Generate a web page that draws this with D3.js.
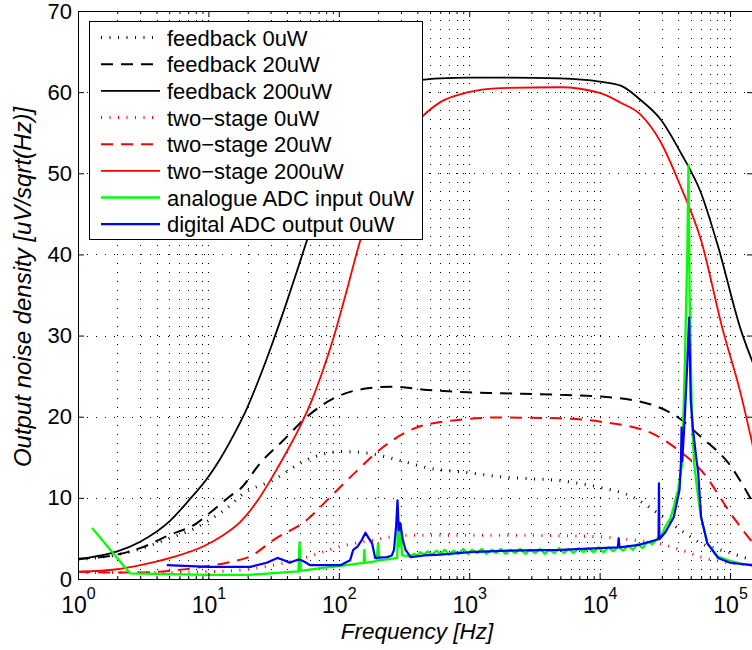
<!DOCTYPE html>
<html>
<head>
<meta charset="utf-8">
<script src="https://cdn.jsdelivr.net/npm/d3@7"></script>
<style>
  body { margin: 0; background: #fff; }
  svg text { font-family: "Liberation Sans", Arial, sans-serif; fill: #000; }
</style>
</head>
<body>
<div id="chart"></div>
<script>
// feedback amplifier, 0 / 20 / 200 uW
const fbFreq0 = [1, 2, 3, 5, 8, 10, 15.5, 17.5, 31.5, 57, 103, 166, 280, 480, 980, 1740, 5700, 10000, 18000, 28000, 42000, 60000, 97000, 150000];
const fbVal0 = [2.4, 3.0, 3.7, 5.0, 6.3, 7.2, 9.4, 10.2, 12.2, 14.7, 15.7, 15.5, 14.7, 13.7, 13.1, 12.6, 12.0, 11.3, 10.1, 8.1, 6.0, 4.4, 3.3, 2.3];
const fbFreq20 = [1, 2, 3, 5, 8, 10, 15.5, 17.5, 25, 37.6, 57, 98, 166, 250, 480, 980, 1740, 5000, 10000, 24800, 40000, 60000, 97000, 150000];
const fbVal20 = [2.5, 3.0, 3.8, 5.4, 6.8, 8.0, 10.5, 11.1, 14.3, 17.1, 20.0, 22.5, 23.5, 23.7, 23.3, 23.0, 22.9, 22.7, 22.5, 21.5, 19.9, 17.5, 14.3, 9.4];
const fbFreq200 = [1, 1.5, 2, 3, 5.1, 7, 10, 12.3, 15.2, 19.2, 24.1, 31.5, 39.6, 49, 60.5, 74.8, 99.3, 136.6, 208.7, 300, 423, 600, 1000, 2000, 5000, 10000, 14500, 20700, 29500, 42000, 59800, 80900, 121000, 150000];
const fbVal200 = [2.4, 2.9, 3.4, 4.6, 7.2, 9.6, 12.6, 14.8, 17.4, 20.6, 24.4, 29.4, 34.0, 38.5, 43.0, 47.3, 52.5, 57.0, 60.2, 61.1, 61.5, 61.7, 61.8, 61.8, 61.7, 61.3, 60.8, 59.0, 56.6, 52.5, 47.6, 41.0, 30.7, 26.6];

// two-stage amplifier, 0 / 20 / 200 uW
const tsFreq0 = [1, 2, 5, 10, 17.5, 31.5, 57, 103, 185, 335, 600, 2000, 10000, 18000, 28000, 42000, 60000, 97000, 150000];
const tsVal0 = [0.8, 0.8, 0.8, 0.9, 1.1, 1.7, 2.7, 4.0, 4.8, 5.4, 5.4, 5.4, 5.2, 4.8, 4.4, 3.6, 2.7, 2.0, 1.7];
const tsFreq20 = [1, 2, 3, 5, 9, 14.7, 21, 31.5, 57, 86, 139, 220, 400, 820, 1650, 5000, 10000, 24800, 40000, 60000, 106000, 150000];
const tsVal20 = [0.9, 0.8, 0.8, 1.0, 1.5, 2.1, 2.8, 4.8, 7.3, 10.1, 13.4, 16.3, 18.7, 19.6, 19.9, 19.8, 19.4, 18.0, 15.9, 13.4, 7.6, 4.4];
const tsFreq200 = [1, 2, 3, 5.1, 9.1, 12.7, 17.5, 23.7, 31.5, 40.2, 50.5, 62.7, 75.1, 91, 112.6, 141.8, 181.9, 250.5, 356, 439, 605, 990, 1740, 5000, 10000, 14500, 20700, 29500, 42000, 59800, 88000, 120000, 150000];
const tsVal200 = [0.9, 1.2, 1.7, 2.6, 4.0, 5.3, 7.0, 9.6, 12.8, 15.8, 18.8, 22.2, 25.6, 29.7, 35.0, 41.0, 46.5, 51.5, 55.2, 57.0, 58.8, 60.0, 60.5, 60.6, 59.9, 58.7, 57.2, 53.8, 48.3, 41.8, 30.7, 23.0, 16.3];

// measured spectra, 0 uW
const adcInFreq = [1.28, 2.5, 5, 10, 20, 30, 45, 49, 50, 51, 70, 100, 140, 155, 157, 159, 195, 200, 205, 260, 280, 285, 290, 295, 300, 305, 350,
  380, 400, 420, 450, 480, 520, 560, 600, 650, 700, 760, 820, 900, 980, 1050, 1150, 1250, 1350, 1500, 1600, 1750, 1900, 2050, 2250, 2450,
  2700, 2900, 3200, 3500, 3800, 4100, 4500, 4900, 5300, 5800, 6300, 6900, 7500, 8200, 9000, 9800, 10700, 11700, 12700, 13900, 15100,
  16500, 18000, 19600, 21400, 23300, 25400, 27700, 30000, 32000, 35000, 37000, 40000, 43000, 45000, 47000, 48000, 49000, 51000, 53000,
  57000, 60000, 67000, 80000, 97000, 120000, 150000];
const adcInVal = [6.3, 0.7, 0.6, 0.5, 0.5, 0.7, 0.9, 0.9, 4.5, 1.0, 1.3, 1.6, 1.9, 2.0, 3.6, 2.0, 2.2, 4.4, 2.3, 2.5, 2.6, 7.3, 4.0, 5.2, 6.5, 2.9, 2.8,
  3.1, 2.9, 3.3, 3.0, 3.4, 3.0, 3.5, 3.1, 3.6, 3.0, 3.5, 3.1, 3.7, 3.1, 3.6, 3.2, 3.7, 3.1, 3.6, 3.2, 3.7, 3.1, 3.6, 3.2, 3.7,
  3.1, 3.6, 3.2, 3.7, 3.1, 3.6, 3.2, 3.8, 3.2, 3.7, 3.2, 3.8, 3.3, 3.8, 3.3, 3.9, 3.3, 3.9, 3.4, 4.0, 3.5,
  4.1, 3.6, 4.3, 3.8, 4.6, 4.3, 5.0, 5.5, 6.5, 7.5, 8.9, 11.0, 14.3, 26.6, 40.0, 51.0, 35.0, 20.0, 14.3,
  10.0, 7.6, 4.4, 2.8, 2.3, 1.9, 1.7];
const adcOutFreq = [4.8, 10, 21, 28, 33.8, 38, 42, 47, 50, 55, 60, 80, 103, 122, 129, 139, 150, 160, 170, 180, 190, 235, 255, 265, 275, 282,
  288, 295, 310, 325, 355, 450, 600, 1000, 2000, 5000, 10000, 13800, 14000, 14200, 20000, 27000, 28300, 28500, 28700, 32000, 37000,
  41000, 42000, 42500, 43000, 45000, 47000, 48500, 50000, 52000, 55000, 57000, 60000, 67000, 81000, 100000, 150000];
const adcOutVal = [1.7, 1.5, 1.5, 2.0, 2.6, 2.3, 2.0, 2.3, 2.4, 2.1, 1.7, 1.7, 1.7, 2.3, 3.6, 4.0, 4.8, 5.7, 5.0, 4.4, 2.6, 2.7, 2.9, 3.6, 6.5, 9.7,
  6.0, 6.9, 4.8, 3.6, 2.7, 2.9, 3.0, 3.3, 3.5, 3.6, 3.8, 3.9, 5.0, 3.9, 4.2, 4.8, 4.9, 11.8, 4.9, 5.8, 7.6,
  11.0, 14.3, 18.7, 14.5, 20.0, 26.6, 32.2, 22.0, 18.4, 15.0, 13.1, 7.6, 4.4, 2.6, 2.0, 1.7];

const seriesNames = ["feedback 0uW", "feedback 20uW", "feedback 200uW", "two\u2212stage 0uW", "two\u2212stage 20uW",
  "two\u2212stage 200uW", "analogue ADC input 0uW", "digital ADC output 0uW"];
const xTickExponents = ["0", "1", "2", "3", "4", "5"];
const yTickLabels = ["0", "10", "20", "30", "40", "50", "60", "70"];

const width = 752, height = 650;
const plot = { left: 78, right: 753, top: 11, bottom: 579 };

const svg = d3.select("#chart").append("svg")
    .attr("width", width)
    .attr("height", height);

const xScale = d3.scaleLog().domain([1, 1.5e5]).range([plot.left, plot.right]);
const yScale = d3.scaleLinear().domain([0, 70]).range([plot.bottom, plot.top]);

const majorX = xTickExponents.map(e => Math.pow(10, +e));
const allX = xScale.ticks();
const minorX = allX.filter(t => !majorX.includes(t));
const yTicks = yTickLabels.map(Number);

// dotted grid
const grid = svg.append("g").attr("stroke", "#000").attr("stroke-width", 1).attr("stroke-dasharray", "1,8");
grid.selectAll("line.v").data(allX.filter(t => t > 1)).enter().append("line")
    .attr("x1", d => Math.round(xScale(d)) + 0.5).attr("x2", d => Math.round(xScale(d)) + 0.5)
    .attr("y1", plot.bottom).attr("y2", plot.top);
grid.selectAll("line.h").data(yTicks.filter(t => t > 0 && t < 70)).enter().append("line")
    .attr("x1", plot.left).attr("x2", plot.right)
    .attr("y1", d => Math.round(yScale(d)) + 0.5).attr("y2", d => Math.round(yScale(d)) + 0.5);

// curves
const series = [
  { f: fbFreq0, v: fbVal0, color: "#000", dash: "1,7.5", w: 3, smooth: true },
  { f: fbFreq20, v: fbVal20, color: "#000", dash: "12,8", w: 2, smooth: true },
  { f: fbFreq200, v: fbVal200, color: "#000", dash: null, w: 1.8, smooth: true },
  { f: tsFreq0, v: tsVal0, color: "#ff0000", dash: "1,7.5", w: 3, smooth: true },
  { f: tsFreq20, v: tsVal20, color: "#ff0000", dash: "12,8", w: 2, smooth: true },
  { f: tsFreq200, v: tsVal200, color: "#ff0000", dash: null, w: 1.8, smooth: true },
  { f: adcInFreq, v: adcInVal, color: "#00ff00", dash: null, w: 2.3, smooth: false },
  { f: adcOutFreq, v: adcOutVal, color: "#0000ff", dash: null, w: 2.2, smooth: false }
];

svg.append("clipPath").attr("id", "clip").append("rect")
    .attr("x", plot.left).attr("y", plot.top)
    .attr("width", plot.right - plot.left).attr("height", plot.bottom - plot.top);

const curves = svg.append("g").attr("clip-path", "url(#clip)");
series.forEach(s => {
  const pts = s.f.map((d, i) => [d, s.v[i]]);
  const line = d3.line()
      .x(d => xScale(d[0]))
      .y(d => yScale(d[1]))
      .curve(s.smooth ? d3.curveMonotoneX : d3.curveLinear);
  curves.append("path")
      .attr("d", line(pts))
      .attr("fill", "none")
      .attr("stroke", s.color)
      .attr("stroke-width", s.w)
      .attr("stroke-dasharray", s.dash)
      .attr("stroke-linejoin", "round");
});

// frame
svg.append("rect")
    .attr("x", plot.left + 0.5).attr("y", plot.top + 0.5)
    .attr("width", plot.right - plot.left).attr("height", plot.bottom - plot.top)
    .attr("fill", "none").attr("stroke", "#000").attr("stroke-width", 1);

// ticks (pointing inward)
const tickStyle = g => { g.select(".domain").remove(); g.selectAll(".tick line").attr("stroke", "#000"); };

svg.append("g").attr("transform", `translate(0,${plot.bottom})`)
    .call(d3.axisBottom(xScale).tickValues(minorX).tickSize(-3).tickFormat(""))
    .call(tickStyle);
svg.append("g").attr("transform", `translate(0,${plot.top})`)
    .call(d3.axisTop(xScale).tickValues(minorX).tickSize(-3).tickFormat(""))
    .call(tickStyle);
svg.append("g").attr("transform", `translate(0,${plot.top})`)
    .call(d3.axisTop(xScale).tickValues(majorX).tickSize(-6).tickFormat(""))
    .call(tickStyle);

const xAxis = svg.append("g").attr("transform", `translate(0,${plot.bottom})`)
    .call(d3.axisBottom(xScale).tickValues(majorX).tickSize(-6).tickFormat(""))
    .call(tickStyle);
xAxis.selectAll(".tick text")
    .attr("y", 34).attr("dy", null)
    .style("font-size", "23px")
    .each(function(d, i) {
      const t = d3.select(this);
      t.append("tspan").text("10");
      t.append("tspan").attr("dy", -14).style("font-size", "16px").text(xTickExponents[i]);
    });

svg.append("g").attr("transform", `translate(${plot.left},0)`)
    .call(d3.axisLeft(yScale).tickValues(yTicks).tickSize(-6).tickPadding(6).tickFormat((d, i) => yTickLabels[i]))
    .call(tickStyle)
    .selectAll(".tick text").style("font-size", "22px");
svg.append("g").attr("transform", `translate(${plot.right},0)`)
    .call(d3.axisRight(yScale).tickValues(yTicks).tickSize(-6).tickFormat(""))
    .call(tickStyle);

// axis titles
svg.append("text")
    .attr("x", 417)
    .attr("y", 639)
    .attr("text-anchor", "middle")
    .style("font-size", "22.5px")
    .style("font-style", "italic")
    .text("Frequency [Hz]");

svg.append("text")
    .attr("transform", "rotate(-90)")
    .attr("x", -287)
    .attr("y", 31)
    .attr("text-anchor", "middle")
    .style("font-size", "24px")
    .style("font-style", "italic")
    .text("Output noise density [uV/sqrt(Hz)]");

// legend
const legend = svg.append("g");
legend.append("rect")
    .attr("x", 89.5).attr("y", 21.5).attr("width", 333).attr("height", 218)
    .attr("fill", "#fff").attr("stroke", "#000").attr("stroke-width", 1);
seriesNames.forEach((name, i) => {
  const s = series[i];
  const ly = 37.5 + i * 26.67;
  legend.append("line")
      .attr("x1", 101).attr("x2", 160).attr("y1", ly).attr("y2", ly)
      .attr("stroke", s.color).attr("stroke-width", s.w)
      .attr("stroke-dasharray", s.dash);
  legend.append("text")
      .attr("x", 167).attr("y", ly + 8)
      .style("font-size", "22px")
      .text(name);
});
</script>
</body>
</html>
